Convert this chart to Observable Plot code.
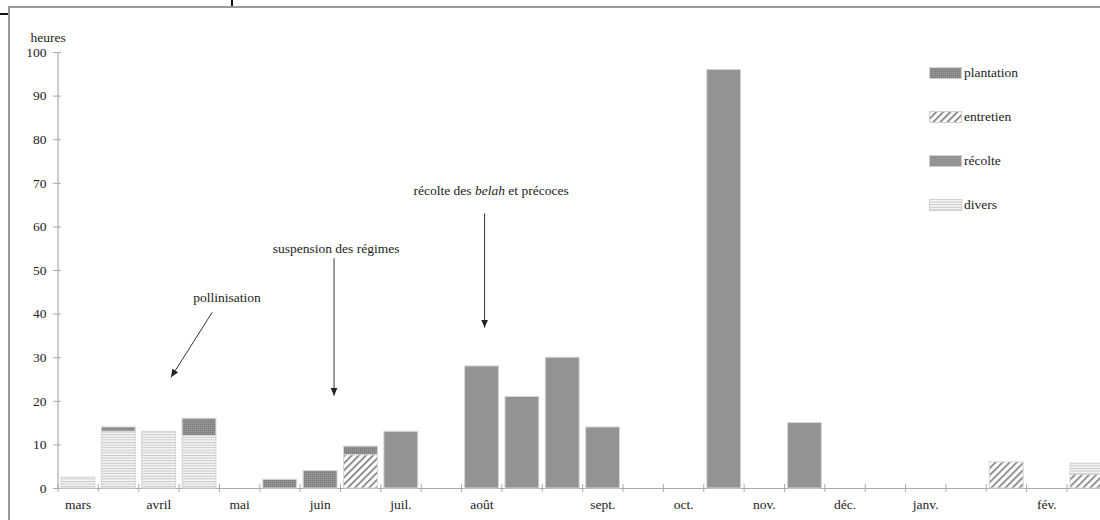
<!DOCTYPE html>
<html>
<head>
<meta charset="utf-8">
<script src="https://cdn.jsdelivr.net/npm/d3@7"></script>
<script src="https://cdn.jsdelivr.net/npm/@observablehq/plot@0.6"></script>
<style>
  html, body { margin: 0; padding: 0; background: #fff; overflow: hidden; }
  #wrap { position: relative; width: 1100px; height: 520px; overflow: hidden; font-family: "Liberation Serif", "DejaVu Serif", serif; color: #222; }
  #chart svg { display: block; }
  .frame { position: absolute; left: 8px; top: 6px; width: 1200px; height: 600px; border-left: 2px solid #9a9a9a; border-top: 2px solid #9a9a9a; pointer-events: none; }
  .cut1 { position: absolute; left: 0; top: 13px; width: 8px; height: 2px; background: #111; }
  .cut2 { position: absolute; left: 231px; top: 0; width: 2px; height: 6px; background: #111; }
  #legend { position: absolute; left: 929px; top: 65px; font-size: 13.5px; }
  #legend .row { position: absolute; left: 0; display: flex; align-items: center; white-space: nowrap; }
  #legend svg { display: block; margin-right: 2px; }
</style>
</head>
<body>
<svg width="0" height="0" style="position:absolute">
  <defs>
    <pattern id="pat-plantation" width="2" height="2" patternUnits="userSpaceOnUse">
      <rect width="2" height="2" fill="#929292"/>
      <rect width="1" height="1" fill="#767676"/>
    </pattern>
    <pattern id="pat-entretien" width="5" height="5" patternUnits="userSpaceOnUse" patternTransform="rotate(45)">
      <rect width="5" height="5" fill="#fff"/>
      <rect x="0" y="0" width="1.6" height="5" fill="#7a7a7a"/>
    </pattern>
    <pattern id="pat-divers" width="4" height="2.6" patternUnits="userSpaceOnUse">
      <rect width="4" height="2.6" fill="#f7f7f7"/>
      <rect x="0" y="0" width="4" height="1" fill="#c6c6c6"/>
    </pattern>
    <marker id="ahead" viewBox="0 -4 8 8" refX="8" refY="0" markerWidth="8" markerHeight="8" markerUnits="userSpaceOnUse" orient="auto">
      <path d="M0,-3.5L8,0L0,3.5Z" fill="#222"/>
    </marker>
  </defs>
</svg>
<div id="wrap">
  <div id="chart"></div>
  <div class="frame"></div>
  <div class="cut1"></div>
  <div class="cut2"></div>
  <div id="legend"></div>
</div>
<script>
// ---- data (half-month periods, index 0 = first half of March) ----
const periodCount = 26;
const monthLabels = ["mars", "avril", "mai", "juin", "juil.", "août", "sept.", "oct.", "nov.", "déc.", "janv.", "fév."];
const monthSlots  = [0, 2, 4, 6, 8, 10, 13, 15, 17, 19, 21, 24];

const types = ["plantation", "entretien", "récolte", "divers"];
const stackOrder = ["entretien", "divers", "plantation", "récolte"];

// [period index, hours]
const plantation = [[1, 1], [3, 4], [5, 2], [6, 4], [7, 2]];
const entretien  = [[7, 7.6], [23, 6], [25, 3.2]];
const recolte    = [[8, 13], [10, 28], [11, 21], [12, 30], [13, 14], [16, 96], [18, 15]];
const divers     = [[0, 2.5], [1, 13], [2, 13], [3, 12], [25, 2.5]];

const yTicks = [0, 10, 20, 30, 40, 50, 60, 70, 80, 90, 100];

// annotations: label position and arrow (period units, hours)
const annotations = [
  {label: "pollinisation", tx: 4.19, ty: 43.8, ax1: 3.82, ay1: 40.4, ax2: 2.80, ay2: 25.5},
  {label: "suspension des régimes", tx: 6.89, ty: 55.0, ax1: 6.84, ay1: 52.8, ax2: 6.84, ay2: 21.3},
  {label: "récolte des belah et précoces", tx: 10.73, ty: 68.3, ax1: 10.57, ay1: 63.1, ax2: 10.57, ay2: 36.9}
];

const fills = {
  "plantation": "url(#pat-plantation)",
  "entretien": "url(#pat-entretien)",
  "récolte": "#939393",
  "divers": "url(#pat-divers)"
};

// ---- build table ----
const series = {"plantation": plantation, "entretien": entretien, "récolte": recolte, "divers": divers};
const rows = [];
for (const t of types) for (const [slot, hours] of series[t]) rows.push({slot, type: t, hours});

const monthTicks = monthSlots.map(s => s + 0.5);
const labelOf = new Map(monthSlots.map((s, i) => [s + 0.5, monthLabels[i]]));
const FS = 13.5;

const chart = Plot.plot({
  width: 1100,
  height: 520,
  marginLeft: 57,
  marginRight: 0,
  marginTop: 52,
  marginBottom: 32,
  style: {fontFamily: "Liberation Serif", fontSize: FS + "px", background: "transparent", color: "#222"},
  x: {domain: [0, periodCount], range: [57.5, 57.5 + periodCount * 40.36]},
  y: {domain: [0, 100]},
  color: {type: "ordinal", domain: types, range: types.map(t => fills[t])},
  marks: [
    Plot.ruleX([0], {stroke: "#aaa", strokeWidth: 1.2}),
    Plot.ruleY([0], {stroke: "#aaa", strokeWidth: 1.2}),
    Plot.axisY({ticks: yTicks, tickSize: 8, dx: 4, tickPadding: 7, stroke: "#aaa", fill: "#222", fontSize: FS, label: null}),
    Plot.axisX({ticks: d3.range(0, periodCount + 1), tickSize: 8, dy: -4, tickFormat: () => "", stroke: "#aaa", label: null}),
    Plot.axisX({ticks: monthTicks, tickSize: 0, tickPadding: 11, tickFormat: d => labelOf.get(d), fill: "#222", fontSize: FS, label: null}),
    Plot.text(["heures"], {frameAnchor: "top-left", lineAnchor: "middle", dx: -27, dy: -15, textAnchor: "start", fill: "#222", fontSize: FS}),
    Plot.rectY(rows, {x: "slot", interval: 1, y: "hours", z: "type", fill: "type", order: stackOrder,
      insetLeft: 3.5, insetRight: 3, stroke: "#d6d6d6", strokeWidth: 1}),
    Plot.link(annotations, {x1: "ax1", y1: "ay1", x2: "ax2", y2: "ay2", stroke: "#333", strokeWidth: 1, className: "annot-arrow"}),
    Plot.text(annotations, {x: "tx", y: "ty", text: "label", fill: "#222", fontSize: FS, className: "annot-text"})
  ]
});
document.getElementById("chart").appendChild(chart);

// filled arrowheads
d3.select(chart).selectAll(".annot-arrow path").attr("marker-end", "url(#ahead)");
// italic "belah"
d3.select(chart).selectAll(".annot-text text").each(function () {
  if (this.textContent === "récolte des belah et précoces") {
    const t = d3.select(this);
    t.text(null);
    t.append("tspan").text("récolte des ");
    t.append("tspan").attr("font-style", "italic").text("belah");
    t.append("tspan").text(" et précoces");
  }
});

// legend
const legend = d3.select("#legend");
types.forEach((t, i) => {
  const row = legend.append("div").attr("class", "row").style("top", (i * 44) + "px");
  const s = row.append("svg").attr("width", 33).attr("height", 13);
  s.append("rect").attr("x", 0.5).attr("y", 0.5).attr("width", 32).attr("height", 11)
    .attr("fill", fills[t]).attr("stroke", "#d0d0d0").attr("stroke-width", 1);
  row.append("span").text(t);
});
</script>
</body>
</html>
